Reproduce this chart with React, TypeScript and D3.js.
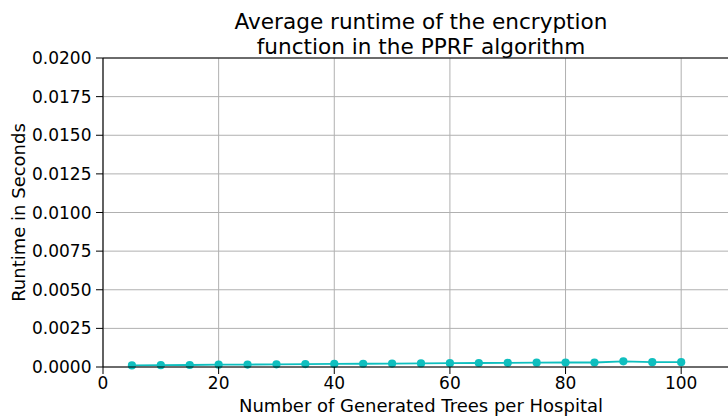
import React from "react";
import * as d3 from "d3";

const trees = [5, 10, 15, 20, 25, 30, 35, 40, 45, 50, 55, 60, 65, 70, 75, 80, 85, 90, 95, 100];
const runtimes = [0.0001, 0.00012, 0.00013, 0.00015, 0.00016, 0.00017, 0.00019, 0.0002, 0.00021, 0.00022, 0.00023, 0.00025, 0.00026, 0.00027, 0.00028, 0.00029, 0.00029, 0.00037, 0.00031, 0.00031];
const xTicks = [0, 20, 40, 60, 80, 100];
const yTicks = [0, 0.0025, 0.005, 0.0075, 0.01, 0.0125, 0.015, 0.0175, 0.02];

const W = 728, H = 419;
const left = 103, top = 58, bottom = 367, right = 739;
const color = "#0fbfbf";
const font = "DejaVu Sans, sans-serif";

export default function App() {
  const x = d3.scaleLinear().domain([0, 110]).range([left, right]);
  const y = d3.scaleLinear().domain([0, 0.02]).range([bottom, top]);
  const line = d3.line<number>().x((_, i) => x(trees[i])).y((d) => y(d));
  return (
    <svg width={W} height={H} style={{ position: "absolute", left: 0, top: 0 }} fontFamily={font}>
      <rect width={W} height={H} fill="#fff" />
      {xTicks.map((t) => (
        <line key={"gx" + t} x1={x(t)} x2={x(t)} y1={top} y2={bottom} stroke="#b0b0b0" strokeWidth={1} />
      ))}
      {yTicks.map((t) => (
        <line key={"gy" + t} x1={left} x2={right} y1={y(t)} y2={y(t)} stroke="#b0b0b0" strokeWidth={1} />
      ))}
      <path d={line(runtimes) || ""} fill="none" stroke={color} strokeWidth={1.8} />
      {runtimes.map((v, i) => (
        <circle key={i} cx={x(trees[i])} cy={y(v)} r={4.1} fill={color} />
      ))}
      <line x1={left} x2={left} y1={top} y2={bottom} stroke="#000" strokeWidth={1.1} />
      <line x1={left} x2={right} y1={bottom} y2={bottom} stroke="#000" strokeWidth={1.1} />
      <line x1={left} x2={right} y1={top} y2={top} stroke="#000" strokeWidth={1.1} />
      {xTicks.map((t) => (
        <g key={"tx" + t}>
          <line x1={x(t)} x2={x(t)} y1={bottom} y2={bottom + 7} stroke="#000" />
          <text x={x(t)} y={bottom + 22} textAnchor="middle" fontSize={17}>{t}</text>
        </g>
      ))}
      {yTicks.map((t) => (
        <g key={"ty" + t}>
          <line x1={left - 7} x2={left} y1={y(t)} y2={y(t)} stroke="#000" />
          <text x={left - 11.5} y={y(t)} dy="0.36em" textAnchor="end" fontSize={17}>{t.toFixed(4)}</text>
        </g>
      ))}
      <text x={(left + right) / 2} y={411.5} textAnchor="middle" fontSize={18}>Number of Generated Trees per Hospital</text>
      <text transform={`translate(25,${(top + bottom) / 2}) rotate(-90)`} textAnchor="middle" fontSize={18}>Runtime in Seconds</text>
      <text x={(left + right) / 2} y={29} textAnchor="middle" fontSize={21.6}>Average runtime of the encryption</text>
      <text x={(left + right) / 2} y={54} textAnchor="middle" fontSize={21.6}>function in the PPRF algorithm</text>
    </svg>
  );
}
